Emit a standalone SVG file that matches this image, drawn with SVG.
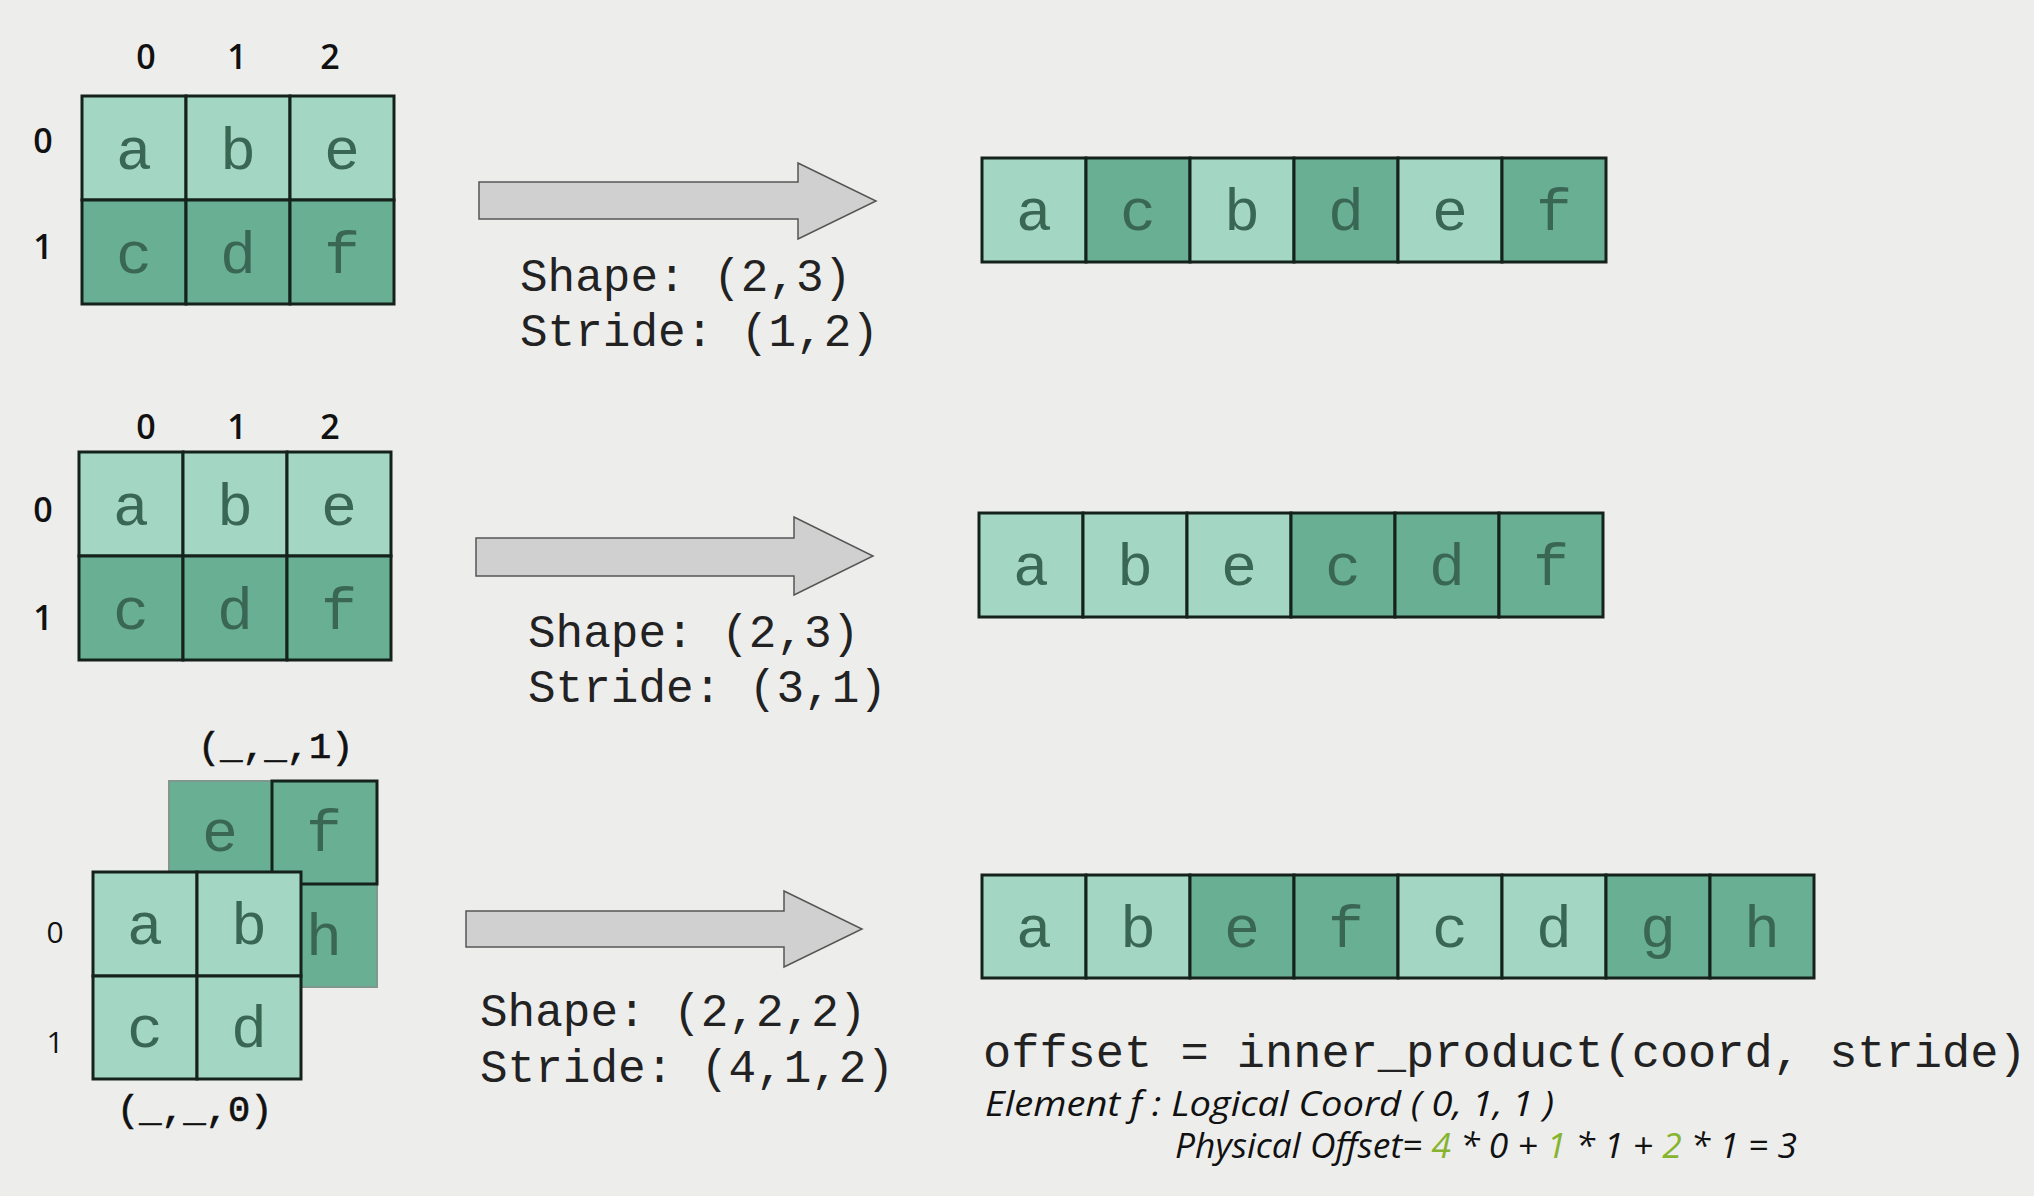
<svg xmlns="http://www.w3.org/2000/svg" width="2034" height="1196" viewBox="0 0 2034 1196">
<style>
.bg{fill:#ededec}
.lt{fill:#a3d6c3;stroke:#15221c;stroke-width:3}
.dk{fill:#68af94;stroke:#15221c;stroke-width:3}
.ch{font-family:"Liberation Mono","Courier New",monospace;font-size:60px;fill:#3a6654;text-anchor:middle}
.idx{font-family:"Open Sans","Noto Sans",sans-serif;font-size:34px;font-weight:600;fill:#111;text-anchor:middle}
.idx2{font-family:"Open Sans","Noto Sans",sans-serif;font-size:30px;font-weight:400;fill:#111;text-anchor:middle}
.code{font-family:"Liberation Mono","Courier New",monospace;font-size:46px;fill:#222}
.tag{font-family:"Liberation Mono","Courier New",monospace;font-size:37px;fill:#111;stroke:#111;stroke-width:0.7}
.off{font-family:"Liberation Mono","Courier New",monospace;font-size:47px;fill:#222}
.it{font-family:"Open Sans","Noto Sans",sans-serif;font-size:34px;font-style:italic;font-weight:500;fill:#111}
.gr{fill:#86b42f}
.arr{fill:#d0d0d0;stroke:#555;stroke-width:1.5}
</style>
<rect class="bg" x="0" y="0" width="2034" height="1196"/>

<g id="connectors">
  <polygon class="arr" points="479,182 798,182 798,163 876,201 798,239 798,219 479,219"/>
  <polygon class="arr" points="476,538 794,538 794,517 873,556 794,595 794,576 476,576"/>
  <polygon class="arr" points="466,911 784,911 784,891 862,929 784,967 784,947 466,947"/>
</g>

<g id="grid1">
  <text class="idx" x="146" y="69">0</text>
  <text class="idx" x="237" y="69">1</text>
  <text class="idx" x="330" y="69">2</text>
  <text class="idx" x="43" y="153">0</text>
  <text class="idx" x="43" y="259">1</text>
  <rect class="lt" x="82" y="96" width="104" height="104"/>
  <rect class="lt" x="186" y="96" width="104" height="104"/>
  <rect class="lt" x="290" y="96" width="104" height="104"/>
  <rect class="dk" x="82" y="200" width="104" height="104"/>
  <rect class="dk" x="186" y="200" width="104" height="104"/>
  <rect class="dk" x="290" y="200" width="104" height="104"/>
  <text class="ch" x="134" y="169">a</text>
  <text class="ch" x="238" y="169">b</text>
  <text class="ch" x="342" y="169">e</text>
  <text class="ch" x="134" y="273">c</text>
  <text class="ch" x="238" y="273">d</text>
  <text class="ch" x="342" y="273">f</text>
</g>

<g id="label1">
  <text class="code" x="520" y="291">Shape: (2,3)</text>
  <text class="code" x="520" y="346">Stride: (1,2)</text>
</g>

<g id="flat1">
  <rect class="lt" x="982" y="158" width="104" height="104"/>
  <rect class="dk" x="1086" y="158" width="104" height="104"/>
  <rect class="lt" x="1190" y="158" width="104" height="104"/>
  <rect class="dk" x="1294" y="158" width="104" height="104"/>
  <rect class="lt" x="1398" y="158" width="104" height="104"/>
  <rect class="dk" x="1502" y="158" width="104" height="104"/>
  <text class="ch" x="1034" y="230">a</text>
  <text class="ch" x="1138" y="230">c</text>
  <text class="ch" x="1242" y="230">b</text>
  <text class="ch" x="1346" y="230">d</text>
  <text class="ch" x="1450" y="230">e</text>
  <text class="ch" x="1554" y="230">f</text>
</g>

<g id="grid2">
  <text class="idx" x="146" y="439">0</text>
  <text class="idx" x="237" y="439">1</text>
  <text class="idx" x="330" y="439">2</text>
  <text class="idx" x="43" y="522">0</text>
  <text class="idx" x="43" y="630">1</text>
  <rect class="lt" x="79" y="452" width="104" height="104"/>
  <rect class="lt" x="183" y="452" width="104" height="104"/>
  <rect class="lt" x="287" y="452" width="104" height="104"/>
  <rect class="dk" x="79" y="556" width="104" height="104"/>
  <rect class="dk" x="183" y="556" width="104" height="104"/>
  <rect class="dk" x="287" y="556" width="104" height="104"/>
  <text class="ch" x="131" y="525">a</text>
  <text class="ch" x="235" y="525">b</text>
  <text class="ch" x="339" y="525">e</text>
  <text class="ch" x="131" y="629">c</text>
  <text class="ch" x="235" y="629">d</text>
  <text class="ch" x="339" y="629">f</text>
</g>

<g id="label2">
  <text class="code" x="528" y="647">Shape: (2,3)</text>
  <text class="code" x="528" y="702">Stride: (3,1)</text>
</g>

<g id="flat2">
  <rect class="lt" x="979" y="513" width="104" height="104"/>
  <rect class="lt" x="1083" y="513" width="104" height="104"/>
  <rect class="lt" x="1187" y="513" width="104" height="104"/>
  <rect class="dk" x="1291" y="513" width="104" height="104"/>
  <rect class="dk" x="1395" y="513" width="104" height="104"/>
  <rect class="dk" x="1499" y="513" width="104" height="104"/>
  <text class="ch" x="1031" y="585">a</text>
  <text class="ch" x="1135" y="585">b</text>
  <text class="ch" x="1239" y="585">e</text>
  <text class="ch" x="1343" y="585">c</text>
  <text class="ch" x="1447" y="585">d</text>
  <text class="ch" x="1551" y="585">f</text>
</g>

<g id="grid3-back">
  <text class="tag" x="198" y="758">(_,_,1)</text>
  <rect x="169" y="781" width="208" height="206" fill="#68af94" stroke="#7f978c" stroke-width="2"/>
  <rect class="dk" x="272" y="781" width="105" height="103"/>
  <text class="ch" x="220" y="851">e</text>
  <text class="ch" x="324" y="851">f</text>
  <text class="ch" x="324" y="955">h</text>
</g>

<g id="grid3-front">
  <text class="idx2" x="55" y="943">0</text>
  <text class="idx2" x="55" y="1053">1</text>
  <rect class="lt" x="93" y="872" width="104" height="104"/>
  <rect class="lt" x="197" y="872" width="104" height="104"/>
  <rect class="lt" x="93" y="976" width="104" height="103"/>
  <rect class="lt" x="197" y="976" width="104" height="103"/>
  <text class="ch" x="145" y="944">a</text>
  <text class="ch" x="249" y="944">b</text>
  <text class="ch" x="145" y="1047">c</text>
  <text class="ch" x="249" y="1047">d</text>
  <text class="tag" x="117" y="1121">(_,_,0)</text>
</g>

<g id="label3">
  <text class="code" x="480" y="1026">Shape: (2,2,2)</text>
  <text class="code" x="480" y="1082">Stride: (4,1,2)</text>
</g>

<g id="flat3">
  <rect class="lt" x="982" y="875" width="104" height="103"/>
  <rect class="lt" x="1086" y="875" width="104" height="103"/>
  <rect class="dk" x="1190" y="875" width="104" height="103"/>
  <rect class="dk" x="1294" y="875" width="104" height="103"/>
  <rect class="lt" x="1398" y="875" width="104" height="103"/>
  <rect class="lt" x="1502" y="875" width="104" height="103"/>
  <rect class="dk" x="1606" y="875" width="104" height="103"/>
  <rect class="dk" x="1710" y="875" width="104" height="103"/>
  <text class="ch" x="1034" y="947">a</text>
  <text class="ch" x="1138" y="947">b</text>
  <text class="ch" x="1242" y="947">e</text>
  <text class="ch" x="1346" y="947">f</text>
  <text class="ch" x="1450" y="947">c</text>
  <text class="ch" x="1554" y="947">d</text>
  <text class="ch" x="1658" y="947">g</text>
  <text class="ch" x="1762" y="947">h</text>
</g>

<g id="formula">
  <text class="off" x="983" y="1067">offset = inner_product(coord, stride)</text>
  <text class="it" x="985" y="1116" textLength="569" lengthAdjust="spacingAndGlyphs">Element f : Logical Coord ( 0, 1, 1 )</text>
  <text class="it" x="1175" y="1158" textLength="622" lengthAdjust="spacingAndGlyphs">Physical Offset= <tspan class="gr">4</tspan> * 0 + <tspan class="gr">1</tspan> * 1 + <tspan class="gr">2</tspan> * 1 = 3</text>
</g>
</svg>
